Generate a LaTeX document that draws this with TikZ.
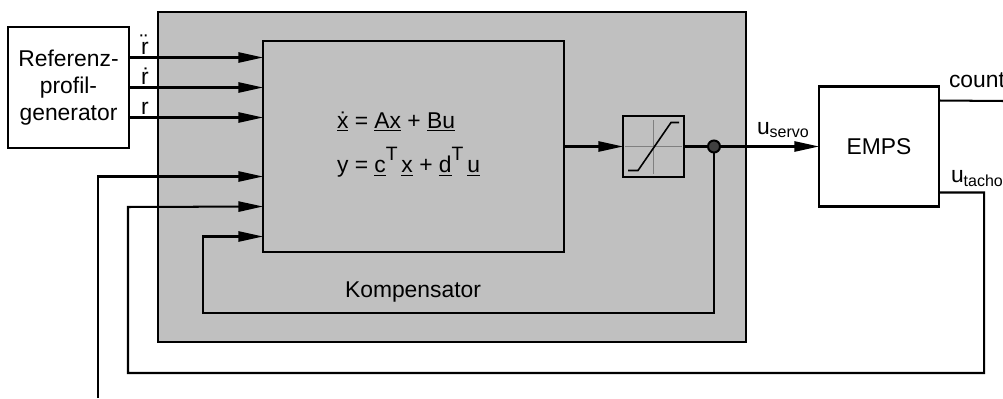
\documentclass[tikz,border=0pt]{standalone}
\usepackage{fontspec}
\setmainfont{Liberation Sans}
\usetikzlibrary{arrows.meta,positioning}
\definecolor{kompgray}{RGB}{192,192,192}
\newcommand{\supT}{\raisebox{1.0ex}{\fontsize{11}{12}\selectfont T}\,}

\begin{document}
\begin{tikzpicture}[inner sep=0pt,outer sep=0pt,line width=1.15pt,
>={Triangle[length=14pt,width=5.8pt]},
font=\fontsize{13}{15.5}\selectfont,
sysblock/.style={draw,rectangle,line width=1.15pt},
siglabel/.style={anchor=base west}]
\useasboundingbox (0,0) rectangle (20.06,7.96);

\draw (9.04,4.42) node[sysblock,fill=kompgray,minimum width=11.76cm,minimum height=6.6cm] (komp) {};
\draw (8.27,5.03) node[sysblock,minimum width=6.02cm,minimum height=4.22cm] (sys) {};
\draw (1.37,6.21) node[sysblock,fill=white,minimum width=2.42cm,minimum height=2.42cm,align=center] (ref) {Referenz-\\profil-\\generator};
\draw (13.07,5.03) node[sysblock,minimum size=1.22cm] (sat) {};
\draw (14.28,5.03) node[draw,circle,fill=black!75,minimum size=0.24cm] (dot) {};
\draw (17.58,5.03) node[sysblock,fill=white,minimum width=2.4cm,minimum height=2.4cm] (emps) {EMPS};

% Zustandsraum
\draw (6.74,5.07) node[anchor=west,align=left,font=\fontsize{13}{25.5}\selectfont] (eq)
  {\underline{\.{x}} = \underline{A}\underline{x} + \underline{B}\underline{u}\\
   y = \underline{c}\supT\underline{x} + \underline{d}\supT\underline{u}};
\draw (8.26,2.12) node (kname) {Kompensator};

% Saettigung
\draw[gray,line width=0.6pt] ([xshift=-0.57cm]sat.center) -- ([xshift=0.57cm]sat.center);
\draw[gray,line width=0.6pt] ([yshift=-0.54cm]sat.center) -- ([yshift=0.54cm]sat.center);
\draw[line width=0.9pt] ([shift={(-0.51,-0.48)}]sat.center) -- ++(0.2,0) -- ([shift={(0.35,0.48)}]sat.center) -- ++(0.16,0);

% Referenzsignale
\coordinate (r2) at ([yshift=6mm]ref.east);
\coordinate (r1) at (ref.east);
\coordinate (r0) at ([yshift=-6mm]ref.east);
\draw[->] (r2) -- (r2 -| sys.west);
\draw[->] (r1) -- (r1 -| sys.west);
\draw[->] (r0) -- (r0 -| sys.west);
\node[siglabel] (lr2) at ([shift={(0.24,0.06)}]r2) {\"r};
\node[siglabel] (lr1) at ([shift={(0.24,0.06)}]r1) {\.r};
\node[siglabel] (lr0) at ([shift={(0.24,0.06)}]r0) {r};

% Rueckfuehrungen
\coordinate (s4) at ([yshift=-6mm]sys.west);
\coordinate (s5) at ([yshift=-12mm]sys.west);
\coordinate (s6) at ([yshift=-18mm]sys.west);
\coordinate (cntin) at (1.96,0);
\draw[->] (cntin) |- (s4);
\coordinate (tacho) at ([yshift=-9.2mm]emps.east);
\coordinate (c1) at (19.68,0.50);
\coordinate (c2) at (2.56,3.82);
\draw[->] (tacho) -| (c1) -| (c2) -- (s5);
\coordinate (c3) at (4.06,1.70);
\draw[->] (dot) |- (c3) |- (s6);

% Signalpfad
\draw[->] (sys.east) -- (sat.west);
\draw (sat.east) -- (dot);
\draw[->] (dot) -- (emps.west) node[pos=0.64,above=5pt] (lservo) {u\textsubscript{servo}};
\coordinate (cnt) at ([yshift=9.2mm]emps.east);
\coordinate (cntend) at (20.06,5.94);
\draw (cnt) -- (cntend);
\node[siglabel] (lcnt) at (18.98,6.22) {count};
\node[siglabel] (ltacho) at (19.02,4.32) {u\textsubscript{tacho}};

\end{tikzpicture}
\end{document}
